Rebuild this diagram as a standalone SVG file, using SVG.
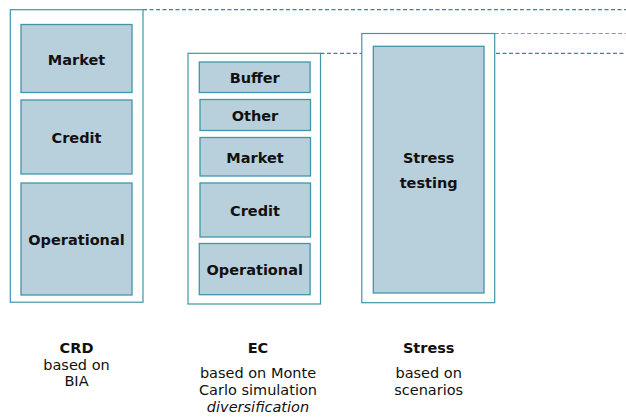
<svg xmlns="http://www.w3.org/2000/svg" width="626" height="418" viewBox="0 0 626 418">
<style>
.outer{fill:#ffffff;stroke:#3f95aa;stroke-width:1.2}
.inner{fill:#b8d0dc;stroke:#3f95aa;stroke-width:1.3}
.dash{stroke:#2f8a9e;stroke-width:1.2;stroke-dasharray:4 2.5;fill:none}
.lbl{font-family:"DejaVu Sans",Verdana,sans-serif;font-weight:bold;font-size:14.5px;fill:#111;text-anchor:middle}
.cap{font-family:"DejaVu Sans",Verdana,sans-serif;font-size:14.5px;fill:#111;text-anchor:middle}
.capb{font-weight:bold}
.it{font-style:italic}
</style>
<rect width="626" height="418" fill="#ffffff"/>
<g id="connectors">
<line class="dash" x1="143" y1="9.7" x2="626" y2="9.7"/>
<line class="dash" x1="494.7" y1="33.5" x2="626" y2="33.5" stroke-opacity="0.75"/>
<line class="dash" x1="320.5" y1="53.3" x2="626" y2="53.3"/>
</g>
<g id="crd">
<rect class="outer" x="10.3" y="9.7" width="132.7" height="292.5"/>
<g id="crd-market"><rect class="inner" x="21" y="24.5" width="111" height="68"/><text class="lbl" x="76.5" y="65">Market</text></g>
<g id="crd-credit"><rect class="inner" x="21" y="100" width="111" height="74"/><text class="lbl" x="76.5" y="143">Credit</text></g>
<g id="crd-operational"><rect class="inner" x="21" y="183" width="111" height="112"/><text class="lbl" x="76.5" y="245">Operational</text></g>
</g>
<g id="ec">
<rect class="outer" x="188" y="53.3" width="132.5" height="250.7"/>
<g id="ec-buffer"><rect class="inner" x="199.3" y="62" width="110.8" height="30.5"/><text class="lbl" x="254.7" y="83">Buffer</text></g>
<g id="ec-other"><rect class="inner" x="200" y="99.5" width="110.5" height="31"/><text class="lbl" x="255" y="121">Other</text></g>
<g id="ec-market"><rect class="inner" x="200" y="137.5" width="110.5" height="38.5"/><text class="lbl" x="255" y="163">Market</text></g>
<g id="ec-credit"><rect class="inner" x="200" y="183" width="110.5" height="54"/><text class="lbl" x="255" y="216">Credit</text></g>
<g id="ec-operational"><rect class="inner" x="199.3" y="243.5" width="110.8" height="51.2"/><text class="lbl" x="254.7" y="275">Operational</text></g>
</g>
<g id="stress">
<rect class="outer" x="361.8" y="33.5" width="132.9" height="269.2"/>
<g id="stress-testing"><rect class="inner" x="373.3" y="46.3" width="110.7" height="246.7"/><text class="lbl" x="428.7" y="163">Stress</text><text class="lbl" x="428.7" y="188">testing</text></g>
</g>
<g id="captions">
<text class="cap" x="76.5" y="353"><tspan class="capb">CRD</tspan><tspan x="76.5" y="369.5">based on</tspan><tspan x="76.5" y="386">BIA</tspan></text>
<text class="cap" x="258" y="353"><tspan class="capb">EC</tspan><tspan x="258" y="378">based on Monte</tspan><tspan x="258" y="394.5">Carlo simulation</tspan><tspan class="it" x="258" y="411.5">diversification</tspan></text>
<text class="cap" x="428.7" y="353"><tspan class="capb">Stress</tspan><tspan x="428.7" y="378">based on</tspan><tspan x="428.7" y="395">scenarios</tspan></text>
</g>
</svg>
